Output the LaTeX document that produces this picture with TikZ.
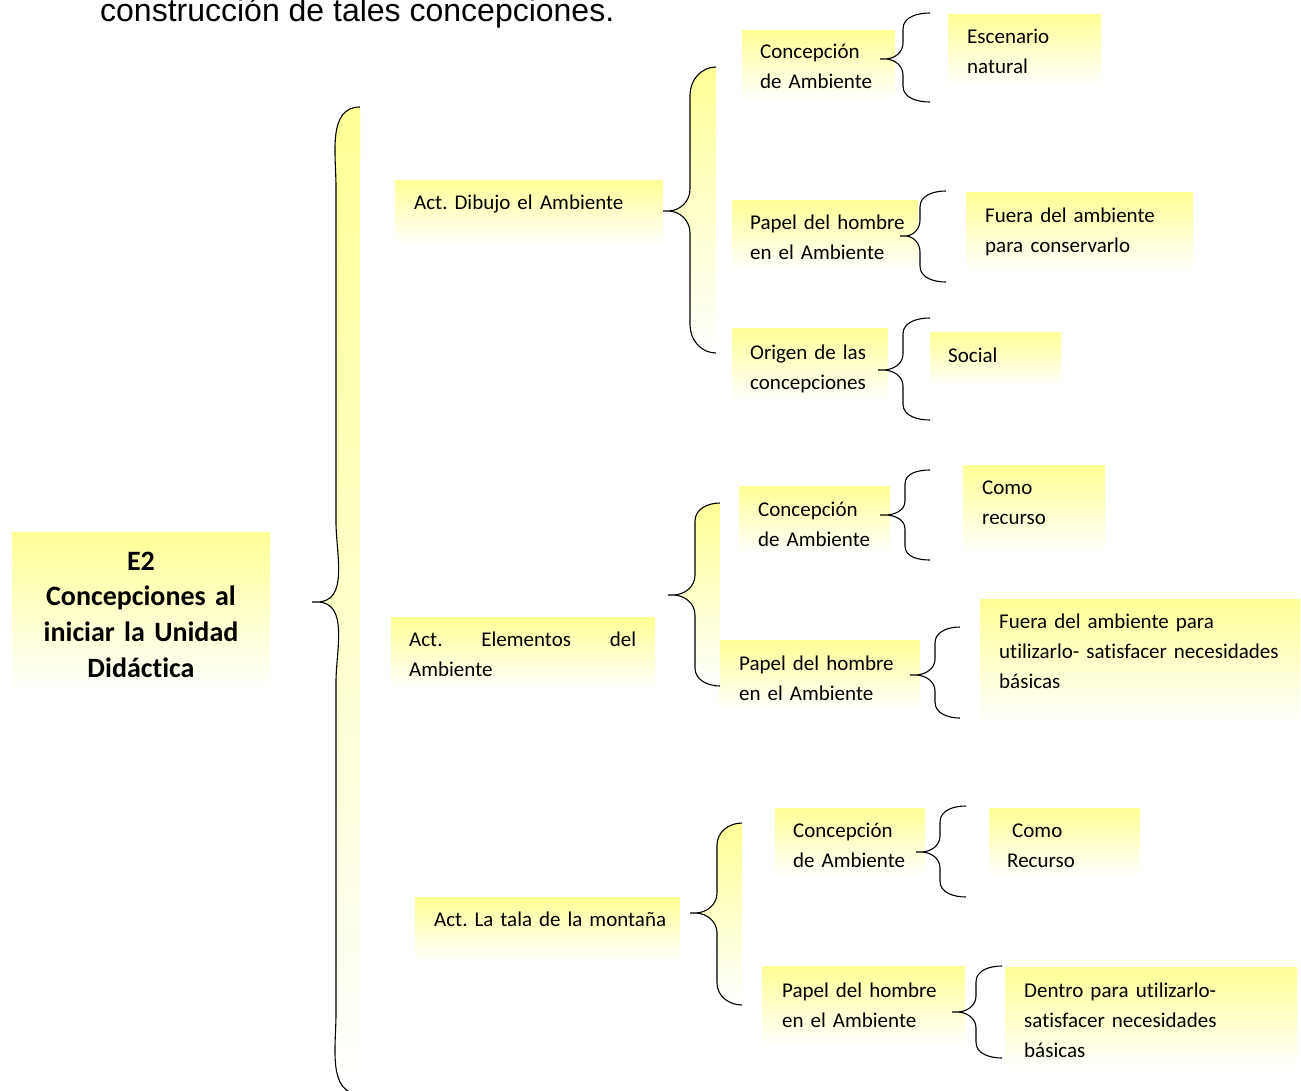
\documentclass[tikz,border=0pt]{standalone}
\usepackage{fontspec}
\setmainfont[Ligatures={NoCommon}]{Carlito}
\newfontfamily\arialf{Liberation Sans}
\definecolor{byellow}{RGB}{255,255,150}
\frenchspacing
\DeclareRobustCommand\txtfont{\fontsize{21}{30}\selectfont\spaceskip=3.7pt\relax}
\DeclareRobustCommand\mainfontb{\bfseries\fontsize{28}{35.7}\selectfont\spaceskip=5.2pt\relax}
\tikzset{
  box/.style={rectangle, inner sep=0pt, draw=none, top color=byellow, bottom color=white, anchor=north west},
  txt/.style={inner sep=0pt, anchor=base west, text width=400pt, align=left, font=\txtfont},
  maintxt/.style={inner sep=0pt, anchor=base, text width=258pt, align=center, font=\mainfontb},
  bracefill/.style={top color=byellow, bottom color=white},
  smallfill/.style={fill=white},
  braceline/.style={draw=black, line width=1.1pt}
}
% #9 = fill style
\newcommand\mybrace[9]{%
  \path[#9] (#3,#4) to[out=180,in=90] (#2,#4+#7) -- (#2,#5-#8) to[out=-90,in=0] (#1+5,#5) -- (#1,#5) -- (#1+5,#5) to[out=0,in=90] (#2,#5+#8) -- (#2,#6-#7) to[out=-90,in=180] (#3,#6) -- cycle;
  \draw[braceline] (#3,#4) to[out=180,in=90] (#2,#4+#7) -- (#2,#5-#8) to[out=-90,in=0] (#1+5,#5) -- (#1,#5) -- (#1+5,#5) to[out=0,in=90] (#2,#5+#8) -- (#2,#6-#7) to[out=-90,in=180] (#3,#6);
}
\begin{document}
\begin{tikzpicture}[x=1pt,y=-1pt]
\useasboundingbox (0,0) rectangle (1301,1090);
% top text
\node[inner sep=0pt, anchor=base west, font=\arialf\fontsize{32}{38}\selectfont] (top) at (100,21) {construcción de tales concepciones.};
% boxes
\node[box, minimum width=258pt, minimum height=160pt] (bm) at (12,532) {};
\node[box, minimum width=268pt, minimum height=65pt] (b1) at (395,180) {};
\node[box, minimum width=153pt, minimum height=70pt] (b2) at (742,30) {};
\node[box, minimum width=153pt, minimum height=72pt] (b3) at (948,14) {};
\node[box, minimum width=186pt, minimum height=70pt] (b4) at (732,200) {};
\node[box, minimum width=227pt, minimum height=80pt] (b5) at (966,192) {};
\node[box, minimum width=156pt, minimum height=72pt] (b6) at (732,328) {};
\node[box, minimum width=131pt, minimum height=55pt] (b7) at (930,332) {};
\node[box, minimum width=264pt, minimum height=73pt] (b8) at (391,617) {};
\node[box, minimum width=151pt, minimum height=68pt] (b9) at (739,486) {};
\node[box, minimum width=142pt, minimum height=90pt] (b10) at (963,465) {};
\node[box, minimum width=201pt, minimum height=70pt] (b11) at (719,640) {};
\node[box, minimum width=320pt, minimum height=126pt] (b12) at (980,599) {};
\node[box, minimum width=265pt, minimum height=65pt] (b13) at (415,897) {};
\node[box, minimum width=150pt, minimum height=68pt] (b14) at (775,808) {};
\node[box, minimum width=151pt, minimum height=68pt] (b15) at (989,808) {};
\node[box, minimum width=203pt, minimum height=80pt] (b16) at (762,966) {};
\node[box, minimum width=292pt, minimum height=103pt] (b17) at (1005,967) {};
% braces
\mybrace{312}{336}{360}{107}{602}{1094}{80}{80}{bracefill}
\mybrace{663}{690}{716}{67}{211}{353}{28}{22}{bracefill}
\mybrace{880}{903}{930}{13}{59}{102}{16}{16}{smallfill}
\mybrace{900}{920}{946}{191}{236}{282}{16}{16}{smallfill}
\mybrace{878}{903}{930}{318}{370}{420}{16}{16}{smallfill}
\mybrace{668}{695}{720}{503}{595}{686}{18}{20}{bracefill}
\mybrace{880}{905}{930}{470}{515}{560}{14}{14}{smallfill}
\mybrace{910}{935}{960}{627}{675}{718}{16}{16}{smallfill}
\mybrace{690}{717}{742}{823}{913}{1005}{22}{20}{bracefill}
\mybrace{916}{940}{966}{806}{852}{897}{16}{16}{smallfill}
\mybrace{952}{976}{1002}{966}{1012}{1058}{16}{16}{smallfill}
% texts
\node[maintxt] (tm) at (141,570) {E2\\Concepciones al\\iniciar la Unidad\\Didáctica};
\node[txt] (t1) at (414,209) {Act. Dibujo el\hspace{7.4pt}Ambiente};
\node[txt] (t2) at (760,58) {Concepción\\de Ambiente};
\node[txt] (t3) at (967,43) {Escenario\\natural};
\node[txt] (t4) at (750,229) {Papel del hombre\\en el Ambiente};
\node[txt] (t5) at (985,222) {Fuera del ambiente\\para\hspace{7.4pt}conservarlo};
\node[txt] (t6) at (750,359) {Origen de las\\concepciones};
\node[txt] (t7) at (948,362) {Social};
\node[txt] (t8) at (409,646) {\hbox to 227pt{Act.\hfill Elementos\hfill del}\\Ambiente};
\node[txt] (t9) at (758,516) {Concepción\\de Ambiente};
\node[txt] (t10) at (982,494) {Como\\recurso};
\node[txt] (t11) at (739,670) {Papel del hombre\\en el Ambiente};
\node[txt] (t12) at (999,628) {Fuera del ambiente para\\utilizarlo- satisfacer necesidades\\básicas};
\node[txt] (t13) at (434,926) {Act. La tala de la montaña};
\node[txt] (t14) at (793,837) {Concepción\\de Ambiente};
\node[txt] (t15) at (1007,837) {\hspace*{5pt}Como\\Recurso};
\node[txt] (t16) at (782,997) {Papel del hombre\\en el Ambiente};
\node[txt] (t17) at (1024,997) {Dentro para\hspace{7.4pt}utilizarlo-\\satisfacer necesidades\\básicas};
\end{tikzpicture}
\end{document}
